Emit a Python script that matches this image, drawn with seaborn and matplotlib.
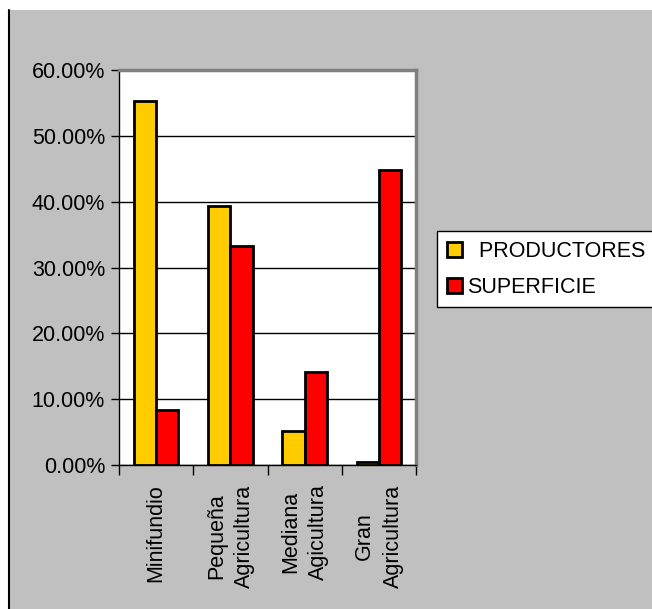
import numpy as np
import pandas as pd
import seaborn as sns
import matplotlib.pyplot as plt
from matplotlib.patches import Patch, Rectangle
from matplotlib.lines import Line2D
from matplotlib.ticker import PercentFormatter

# Datos del grafico
categorias = ["Minifundio", "Pequeña\nAgricultura", "Mediana\nAgicultura", "Gran\nAgricultura"]
productores = [55.3, 39.4, 5.2, 0.5]
superficie = [8.3, 33.2, 14.1, 44.8]
series = ["  PRODUCTORES", "SUPERFICIE"]
colores = ["#FFCC00", "#FF0000"]

df = pd.DataFrame({
    "categoria": categorias * 2,
    "valor": productores + superficie,
    "serie": [series[0]] * 4 + [series[1]] * 4,
})

sns.set_style("white")
plt.rcParams["font.family"] = ["Liberation Sans", "DejaVu Sans"]
plt.rcParams["text.color"] = "black"
plt.rcParams["xtick.color"] = "black"
plt.rcParams["ytick.color"] = "black"

fig = plt.figure(figsize=(6.52, 6.09), dpi=100, facecolor="white")

# Fondo gris y linea negra a la izquierda
fig.patches.append(Rectangle((9 / 652, 0), 1, 1 - 10 / 609, transform=fig.transFigure,
                             facecolor="#C0C0C0", edgecolor="none", zorder=-10))
fig.lines.append(Line2D([8.5 / 652, 8.5 / 652], [0, 1 - 10 / 609], transform=fig.transFigure,
                        color="black", lw=1.5))

ax = fig.add_axes([119 / 652, 1 - 465 / 609, (416 - 119) / 652, (465 - 70) / 609])
ax.set_facecolor("white")

sns.barplot(data=df, x="categoria", y="valor", hue="serie", palette=colores, saturation=1,
            width=0.6, edgecolor="black", linewidth=2, ax=ax, legend=False, zorder=3)

ax.set_ylim(0, 60)
ax.set_xlim(-0.5, 3.5)
ax.set_yticks(np.arange(0, 61, 10))
ax.yaxis.set_major_formatter(PercentFormatter(decimals=2))
ax.yaxis.grid(True, color="black", lw=1)
ax.set_axisbelow(True)

ax.set_xticks(np.arange(-0.5, 4, 1), minor=True)
ax.tick_params(axis="x", which="major", length=0, pad=14, labelcolor="black")
ax.tick_params(axis="x", which="minor", length=7, width=1, color="black", direction="out", bottom=True)
ax.tick_params(axis="y", length=6, width=1, color="black", direction="out", left=True, pad=4,
               labelsize=15.5, labelcolor="black")
ax.set_xticks(range(4))
ax.set_xticklabels(categorias, rotation=90, fontsize=15.5, ha="center", va="top",
                   multialignment="center", linespacing=1.45, color="black")

for lado in ["left", "bottom"]:
    ax.spines[lado].set_color("black")
    ax.spines[lado].set_linewidth(1)
for lado in ["top", "right"]:
    ax.spines[lado].set_color("#808080")
    ax.spines[lado].set_linewidth(2.5)

ax.set_xlabel("")
ax.set_ylabel("")

handles = [Patch(facecolor=c, edgecolor="black", linewidth=2) for c in colores]
leg = fig.legend(handles, series, loc="upper left", bbox_to_anchor=(437 / 652, 1 - 231 / 609),
                 fontsize=15.5, frameon=True, fancybox=False, edgecolor="black", framealpha=1,
                 handlelength=0.7, handleheight=0.7, handletextpad=0.25,
                 labelspacing=0.7, borderpad=0.45, borderaxespad=0, labelcolor="black")
leg.get_frame().set_linewidth(1)
leg.get_frame().set_facecolor("white")

fig.savefig("out.png", dpi=100, facecolor=fig.get_facecolor())
